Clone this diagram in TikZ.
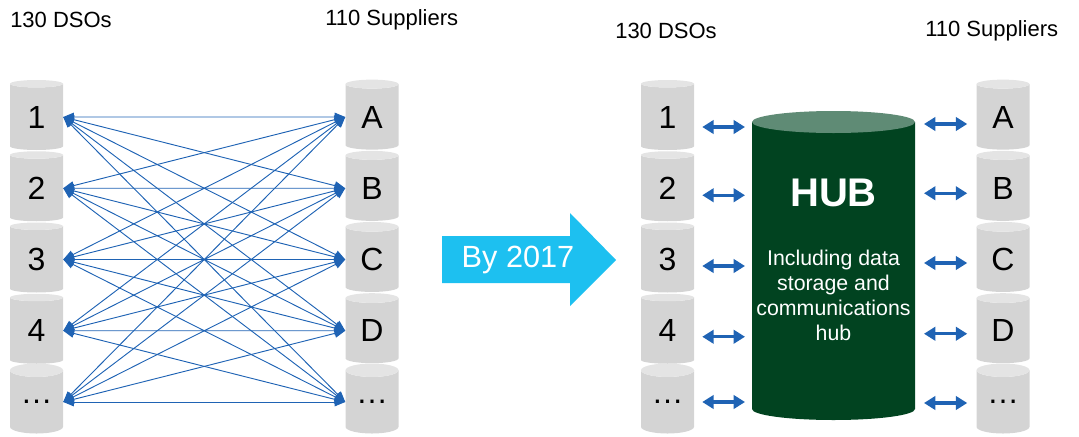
\documentclass[tikz,border=0pt]{standalone}
\usepackage{fontspec}
\setmainfont{Liberation Sans}
\usetikzlibrary{shapes.geometric,arrows.meta,calc}

\definecolor{dbbody}{RGB}{212,212,212}
\definecolor{dbtop}{RGB}{228,228,228}
\definecolor{linkblue}{RGB}{31,99,180}
\definecolor{hubgreen}{RGB}{1,67,32}
\definecolor{hubtop}{RGB}{95,139,117}
\definecolor{bycyan}{RGB}{29,192,240}

\begin{document}
\begin{tikzpicture}[x=0.75pt, y=-0.75pt,
  db/.style={cylinder, shape border rotate=90, shape aspect=0.42, cylinder uses custom fill,
    cylinder body fill=dbbody, cylinder end fill=dbtop, minimum width=39.75pt,
    minimum height=52.5pt, inner sep=0pt, font=\fontsize{24}{24}\selectfont},
  hubbox/.style={minimum width=122.25pt, minimum height=231.75pt, inner sep=0pt, outer sep=0pt},
  link/.style={<->, >={Triangle[length=8pt,width=6.5pt]}, draw=linkblue, line width=0.7pt},
  twoway/.style={<->, >={Triangle[length=8.5pt,width=10pt]}, draw=linkblue, line width=2.3pt},
  colhead/.style={font=\fontsize{16.5}{16.5}\selectfont, anchor=west, inner sep=0pt}]

  \useasboundingbox (0,0) rectangle (1079,436);

  % column headings
  \node[colhead] (dsohead) at (10,20) {130 DSOs};
  \node[colhead] (suphead) at (325,20) {110 Suppliers};
  \node[colhead] (rdsohead) at (615,31) {130 DSOs};
  \node[colhead] (rsuphead) at (925,31) {110 Suppliers};

  % today: every DSO talks to every supplier
  \foreach \n/\t [count=\k from 0] in {1/1,2/2,3/3,4/4,5/…} {
    \node[db] (dso\n) at (36.5,{117+71.25*\k}) {\t};
    \node[db] (rdso\n) at (667.5,{117+71.25*\k}) {\t};
  }
  \foreach \n/\t [count=\k from 0] in {1/A,2/B,3/C,4/D,5/…} {
    \node[db] (sup\n) at (372,{117+71.25*\k}) {\t};
    \node[db] (rsup\n) at (1003,{117+71.25*\k}) {\t};
  }
  \foreach \i in {1,...,5}
    \foreach \j in {1,...,5}
      \draw[link] (dso\i.east) -- (sup\j.west);

  % transition arrow
  \fill[bycyan] (442,236) -- (570,236) -- (570,213) -- (616,260)
    -- (570,306) -- (570,283) -- (442,283) -- cycle;
  \node[font=\fontsize{23}{23}\selectfont, text=white] (by2017) at (518,260) {By 2017};

  % the hub: a big cylinder drawn round an empty box
  \node[hubbox] (hub) at (833.5,265.5) {};
  \fill[hubgreen] ($(hub.north west)+(0,11)$) -- ($(hub.south west)+(0,-11)$)
    arc[start angle=180, end angle=0, x radius=81.5, y radius=11]
    -- ($(hub.north east)+(0,11)$) -- cycle;
  \fill[hubtop] ($(hub.north)+(0,11)$) ellipse[x radius=81.5, y radius=11];
  \node[font=\bfseries\fontsize{30}{30}\selectfont, text=white] (hubname) at (833.5,193) {HUB};
  \node[font=\fontsize{16}{18.75}\selectfont, text=white, align=center] (hubtext) at (833.5,295)
    {Including data\\storage and\\communications\\hub};

  \foreach \i/\dl/\dr in {1/10/7,2/7/5,3/6.5/3.5,4/6/3,5/0/1} {
    \draw[twoway] ($(rdso\i.east)+(8,\dl)$) -- ($(hub.west |- rdso\i.east)+(-7,\dl)$);
    \draw[twoway] ($(hub.east |- rsup\i.west)+(9,\dr)$) -- ($(rsup\i.west)+(-9,\dr)$);
  }
\end{tikzpicture}
\end{document}
